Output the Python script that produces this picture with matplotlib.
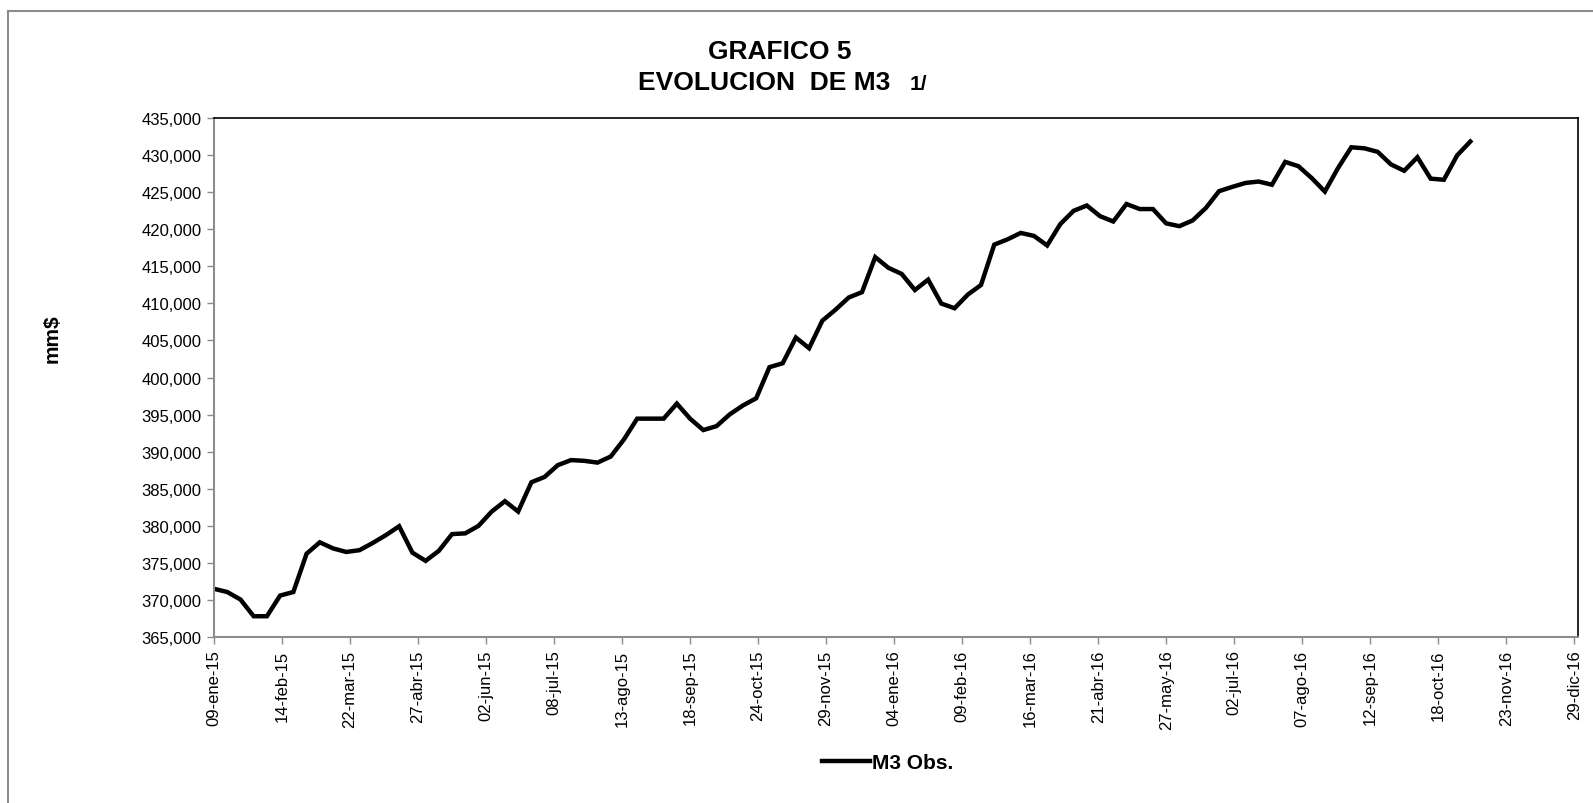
import matplotlib
matplotlib.use("Agg")
import matplotlib.pyplot as plt
import matplotlib.dates as mdates
import numpy as np
from datetime import date, timedelta

plt.rcParams["font.family"] = ["Liberation Sans", "DejaVu Sans"]

# weekly observations starting 09-ene-15 (mm$)
start = date(2015, 1, 9)
m3_obs = [
    371500, 371070, 370060, 367800, 367800, 370590, 371070, 376230, 377770, 376950,
    376470, 376710, 377680, 378740, 379940, 376380, 375270, 376620, 378880, 378980,
    379990, 381920, 383320, 381920, 385870, 386590, 388180, 388860, 388760, 388520,
    389340, 391650, 394450, 394450, 394450, 396480, 394450, 392910, 393440, 395030,
    396230, 397200, 401390, 401920, 405390, 403950, 407660, 409150, 410790, 411510,
    416240, 414790, 413970, 411800, 413200, 409970, 409340, 411180, 412480, 417920,
    418630, 419500, 419100, 417810, 420700, 422480, 423200, 421760, 421040, 423400,
    422720, 422720, 420790, 420410, 421180, 422860, 425130, 425710, 426240, 426430,
    426000, 429080, 428500, 426910, 425080, 428260, 431050, 430910, 430430, 428740,
    427880, 429710, 426820, 426670, 429950, 431830,
]
dates = [start + timedelta(weeks=i) for i in range(len(m3_obs))]

tick_labels = [
    "09-ene-15", "14-feb-15", "22-mar-15", "27-abr-15", "02-jun-15", "08-jul-15",
    "13-ago-15", "18-sep-15", "24-oct-15", "29-nov-15", "04-ene-16", "09-feb-16",
    "16-mar-16", "21-abr-16", "27-may-16", "02-jul-16", "07-ago-16", "12-sep-16",
    "18-oct-16", "23-nov-16", "29-dic-16",
]
tick_dates = [start + timedelta(days=36 * i) for i in range(len(tick_labels))]
y_ticks = list(range(365000, 435001, 5000))

W, H = 1593, 804
fig = plt.figure(figsize=(W / 100, H / 100), dpi=100)
ax = fig.add_axes([214 / W, 1 - 638 / H, (1578 - 214) / W, (638 - 119) / H])

ax.plot(dates, m3_obs, color="black", lw=3.2, solid_joinstyle="miter", label="M3 Obs.")

ax.set_xlim(mdates.date2num(start), mdates.date2num(tick_dates[-1] + timedelta(days=2)))
ax.set_ylim(365000, 435000)
ax.set_xticks(tick_dates)
ax.set_xticklabels(tick_labels, rotation=90, fontsize=12)
ax.set_yticks(y_ticks)
ax.set_yticklabels([f"{v:,}" for v in y_ticks], fontsize=12)
ax.tick_params(axis="both", direction="out", length=5, width=1, color="#8c8c8c", pad=4)

for side in ["left", "bottom"]:
    ax.spines[side].set_color("#8c8c8c")
    ax.spines[side].set_linewidth(1.5)
for side in ["top", "right"]:
    ax.spines[side].set_color("black")
    ax.spines[side].set_linewidth(1.2)

# title, "1/" a bit smaller
fig.text(780 / W, 1 - 59 / H, "GRAFICO 5", ha="center", va="baseline",
         fontsize=19, fontweight="bold")
fig.text(638 / W, 1 - 90 / H, "EVOLUCION  DE M3", ha="left", va="baseline",
         fontsize=19, fontweight="bold")
fig.text(910 / W, 1 - 90 / H, "1/", ha="left", va="baseline",
         fontsize=15, fontweight="bold")
fig.text(52 / W, 1 - 339 / H, "mm$", rotation=90, ha="center", va="center",
         fontsize=15, fontweight="bold")

fig.legend(loc="center", bbox_to_anchor=(888 / W, 1 - 764 / H), frameon=False,
           prop={"weight": "bold", "size": 15}, handlelength=2.3, handletextpad=0.1)

# outer chart border (top and left)
fig.add_artist(plt.Line2D([8 / W, 1], [1 - 12 / H, 1 - 12 / H], color="#8c8c8c", lw=1.5))
fig.add_artist(plt.Line2D([8 / W, 8 / W], [0, 1 - 12 / H], color="#8c8c8c", lw=1.5))

fig.savefig("out.png", dpi=100, facecolor="white")
